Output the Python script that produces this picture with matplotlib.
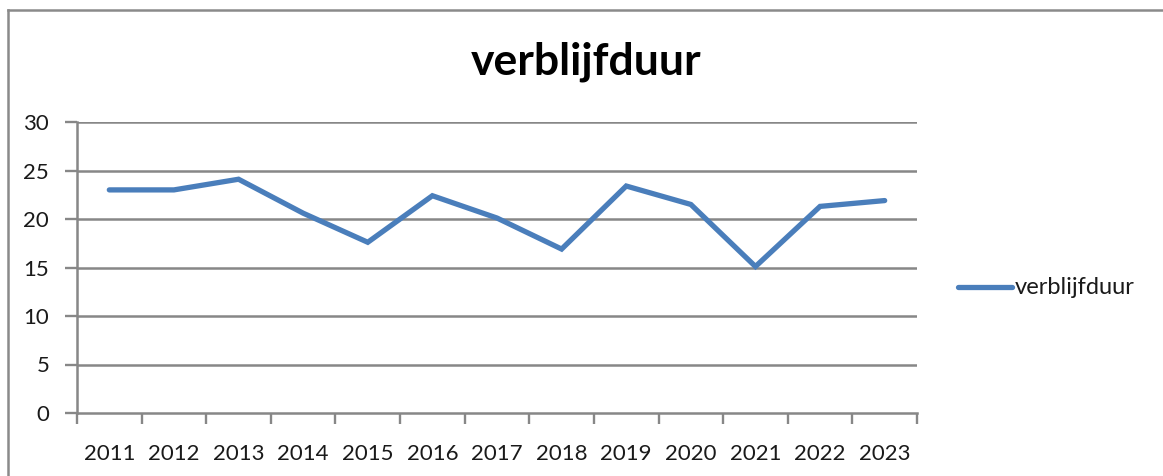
import matplotlib
matplotlib.use("Agg")
import matplotlib.pyplot as plt
from matplotlib.lines import Line2D

years = ["2011", "2012", "2013", "2014", "2015", "2016", "2017",
         "2018", "2019", "2020", "2021", "2022", "2023"]
verblijfduur = [23.0, 23.0, 24.1, 20.6, 17.6, 22.4, 20.1,
                16.9, 23.4, 21.5, 15.1, 21.3, 21.9]
y_ticks = [0, 5, 10, 15, 20, 25, 30]
title = "verblijfduur"
series_name = "verblijfduur"

plt.rcParams['font.family'] = ['Lato', 'DejaVu Sans']

W, H = 1163, 476
fig = plt.figure(figsize=(W / 100, H / 100), dpi=100)
fig.patch.set_facecolor("white")

ax = fig.add_axes([77 / W, 1 - 413 / H, (917 - 77) / W, (413 - 122) / H])
grid_c = "#878787"
line_c = "#4a7ebb"
txt_c = "#1a1a1a"

xs = [i + 0.5 for i in range(len(years))]
ax.plot(xs, verblijfduur, color=line_c, lw=3.8, solid_capstyle="round",
        solid_joinstyle="miter", zorder=3)

ax.set_xlim(0, len(years))
ax.set_ylim(0, 30)
ax.set_yticks(y_ticks)
ax.set_yticklabels([str(v) for v in y_ticks], fontsize=16, color=txt_c)
ax.set_xticks(range(len(years) + 1))
ax.set_xticklabels([])
ax.set_xticks(xs, minor=True)
ax.set_xticklabels(years, minor=True, fontsize=16, color=txt_c)
ax.tick_params(axis="x", which="minor", length=0, pad=22)
ax.tick_params(axis="x", which="major", length=8, width=1.7, color=grid_c, direction="out")
ax.tick_params(axis="y", length=9, width=1.7, color=grid_c, direction="out", pad=11)

for v in y_ticks[1:]:
    ax.axhline(v, color=grid_c, lw=1.8, zorder=1)

for s in ["top", "right"]:
    ax.spines[s].set_visible(False)
for s in ["left", "bottom"]:
    ax.spines[s].set_color(grid_c)
    ax.spines[s].set_linewidth(1.8)

fig.text(586 / W, 1 - 62 / H, title, fontsize=32, fontweight="bold",
         ha="center", va="center", color="black")

# legend
fig.add_artist(Line2D([958 / W, 1012 / W], [1 - 287 / H, 1 - 287 / H],
                      color=line_c, lw=3.8, solid_capstyle="round",
                      transform=fig.transFigure))
fig.text(1015 / W, 1 - 287 / H, series_name, fontsize=17, ha="left",
         va="center", color=txt_c)

# chart border (top and left visible)
fig.add_artist(Line2D([7.5 / W, 1.0], [1 - 9.5 / H, 1 - 9.5 / H],
                      color="#8a8a8a", lw=1.8, transform=fig.transFigure))
fig.add_artist(Line2D([7.5 / W, 7.5 / W], [0, 1 - 9.5 / H],
                      color="#8a8a8a", lw=1.8, transform=fig.transFigure))

fig.savefig("out.png", dpi=100, facecolor="white")
